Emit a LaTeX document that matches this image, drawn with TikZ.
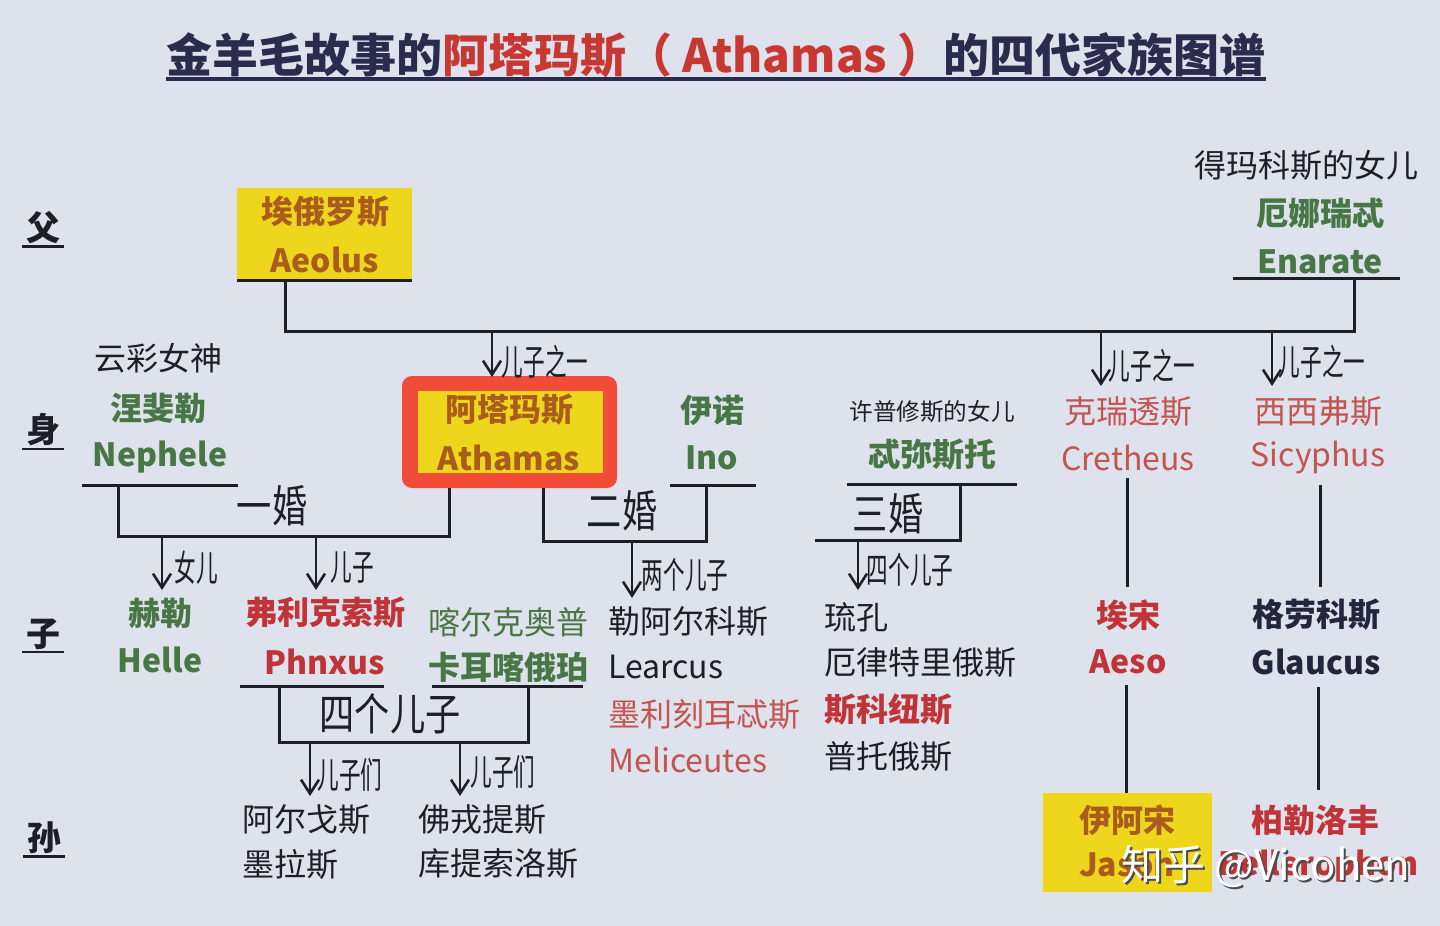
\documentclass[tikz,border=0pt]{standalone}
\usepackage{fontspec}
\setmainfont{Noto Sans CJK SC}
\usetikzlibrary{arrows.meta}
\definecolor{bg}{RGB}{221,226,236}
\definecolor{ink}{RGB}{30,30,42}
\definecolor{ttlblue}{RGB}{40,45,78}
\definecolor{ttlred}{RGB}{200,55,50}
\definecolor{ylw}{RGB}{238,214,28}
\definecolor{brn}{RGB}{170,92,28}
\definecolor{boxred}{RGB}{240,76,56}
\definecolor{grn}{RGB}{72,118,68}
\definecolor{rd}{RGB}{192,52,55}
\definecolor{lrd}{RGB}{196,84,80}
\definecolor{navy}{RGB}{32,38,60}
\tikzset{
  ln/.style={draw=ink, line width=1.5pt},
  arr/.style={draw=ink, line width=1.3pt, -{Straight Barb[length=7pt,width=9pt,line width=1.3pt]}},
  nmb/.style={font=\fontsize{16}{18}\selectfont\bfseries, inner sep=0pt},
  nmr/.style={font=\fontsize{16}{18}\selectfont, inner sep=0pt},
  hw/.style={font=\fontsize{18}{18}\selectfont, text=ink, inner sep=0pt},
  hwbig/.style={font=\fontsize{22}{22}\selectfont, text=ink, inner sep=0pt},
  row/.style={font=\fontsize{17}{17}\selectfont\bfseries, text=ink, inner sep=0pt},
}
\newcommand{\hwt}[1]{\scalebox{0.6}[1]{#1}}
\newcommand{\hwm}[1]{\scalebox{0.8}[1]{#1}}
\begin{document}
\begin{tikzpicture}[x=0.5pt,y=-0.5pt]
\fill[bg] (0,0) rectangle (1440,926);
\useasboundingbox (0,0) rectangle (1440,926);

% title
\node[inner sep=0pt, font=\fontsize{23}{26}\selectfont\bfseries] (title) at (716,55)
  {\textcolor{ttlblue}{金羊毛故事的}\textcolor{ttlred}{阿塔玛斯（ Athamas ）}\textcolor{ttlblue}{的四代家族图谱}};
\draw[ttlblue, line width=1.6pt] (title.west |- 0,79) -- (title.east |- 0,79);

% row labels
\node[row] (r1) at (43,228) {父};
\node[row] (r2) at (43,430) {身};
\node[row] (r3) at (43,634) {子};
\node[row] (r4) at (44,838) {孙};
\foreach \r in {r1,r2,r3,r4} \draw[ink, line width=1.2pt] ([xshift=-2pt,yshift=-1pt]\r.south west) -- ([xshift=2pt,yshift=-1pt]\r.south east);

% Aeolus
\fill[ylw] (237,188) rectangle (412,280);
\draw[ln] (237,280) -- (412,280);
\node[nmb, text=brn] (aeolusc) at (325,212) {埃俄罗斯};
\node[nmb, text=brn] (aeolus) at (325,260) {Aeolus};

% Enarate
\node[nmr, text=ink] (enarated) at (1306,165) {得玛科斯的女儿};
\node[nmb, text=grn] (enaratec) at (1320,213) {厄娜瑞忒};
\node[nmb, text=grn] (enarate) at (1320,262) {Enarate};
\draw[ln] (1233,278) -- (1400,278);

% generation line
\coordinate (a0) at (285,280);
\coordinate (a1) at (285,331);
\coordinate (e0) at (1354,278);
\coordinate (e1) at (1354,331);
\draw[ln] (a0) -- (a1) -- (e1) -- (e0);

% Athamas
\fill[boxred, rounded corners=5pt] (402,376) rectangle (617,488);
\fill[ylw] (418,391) rectangle (603,473);
\node[nmb, text=brn] (athc) at (509,410) {阿塔玛斯};
\node[nmb, text=brn] (ath) at (509,458) {Athamas};
\coordinate (s1) at (492,331);
\draw[arr] (s1) -- (492,377);
\node[hw] at (545,362) {\hwt{儿子之一}};

% Cretheus, Sicyphus
\coordinate (s2) at (1101,331);
\coordinate (s3) at (1272,331);
\draw[arr] (s2) -- (1101,386);
\draw[arr] (s3) -- (1272,386);
\node[hw] at (1152,366) {\hwt{儿子之一}};
\node[hw] at (1322,362) {\hwt{儿子之一}};
\node[nmr, text=lrd] (crec) at (1128,412) {克瑞透斯};
\node[nmr, text=lrd] (cre) at (1128,458) {Cretheus};
\node[nmr, text=lrd] (sisc) at (1318,412) {西西弗斯};
\node[nmr, text=lrd] (sis) at (1318,458) {Sicyphus};

% Nephele
\node[nmr, text=ink] (nepd) at (158,358) {云彩女神};
\node[nmb, text=grn] (nepc) at (158,408) {涅斐勒};
\node[nmb, text=grn] (nep) at (160,457) {Nephele};
\draw[ln] (82,485) -- (238,485);
\coordinate (m1a) at (118,485);
\coordinate (m1b) at (118,536);
\coordinate (m1c) at (449,536);
\coordinate (m1d) at (449,488);
\draw[ln] (m1a) -- (m1b) -- (m1c) -- (m1d);
\node[hwbig] at (272,506) {\hwm{一婚}};
\draw[arr] (162,536) -- (162,590);
\node[hw] at (196,568) {\hwt{女儿}};
\draw[arr] (316,536) -- (316,590);
\node[hw] at (352,568) {\hwt{儿子}};

% Helle, Phrixus
\node[nmb, text=grn] (hellec) at (160,613) {赫勒};
\node[nmb, text=grn] (helle) at (160,660) {Helle};
\node[nmb, text=rd] (phrc) at (325,613) {弗利克索斯};
\node[nmb, text=rd] (phr) at (325,662) {Phnxus};
\draw[ln] (240,686) -- (384,686);
\node[nmr, text=grn] (chald) at (508,622) {喀尔克奥普};
\node[nmb, text=grn] (chalc) at (508,667) {卡耳喀俄珀};
\draw[ln] (432,686) -- (583,686);
\coordinate (f1) at (279,686);
\coordinate (f2) at (279,742);
\coordinate (f3) at (528,742);
\coordinate (f4) at (528,686);
\draw[ln] (f1) -- (f2) -- (f3) -- (f4);
\node[hwbig] at (390,714) {\hwm{四个儿子}};
\draw[arr] (310,742) -- (310,796);
\node[hw] at (350,775) {\hwt{儿子们}};
\draw[arr] (460,742) -- (460,796);
\node[hw] at (503,772) {\hwt{儿子们}};
\node[nmr, text=ink, anchor=west] (g1) at (242,820) {阿尔戈斯};
\node[nmr, text=ink, anchor=west] (g2) at (242,864) {墨拉斯};
\node[nmr, text=ink, anchor=west] (g3) at (418,820) {佛戎提斯};
\node[nmr, text=ink, anchor=west] (g4) at (418,864) {库提索洛斯};

% Ino
\node[nmb, text=grn] (inoc) at (712,410) {伊诺};
\node[nmb, text=grn] (ino) at (712,458) {Ino};
\draw[ln] (670,485) -- (756,485);
\coordinate (m2a) at (543,488);
\coordinate (m2b) at (543,541);
\coordinate (m2c) at (706,541);
\coordinate (m2d) at (706,485);
\draw[ln] (m2a) -- (m2b) -- (m2c) -- (m2d);
\node[hwbig] at (622,511) {\hwm{二婚}};
\draw[arr] (632,541) -- (632,598);
\node[hw] at (685,575) {\hwt{两个儿子}};
\node[nmr, text=ink, anchor=west] (i1) at (608,622) {勒阿尔科斯};
\node[nmr, text=ink, anchor=west] (i2) at (608,667) {Learcus};
\node[nmr, text=lrd, anchor=west] (i3) at (608,714) {墨利刻耳忒斯};
\node[nmr, text=lrd, anchor=west] (i4) at (608,760) {Meliceutes};

% Themisto
\node[inner sep=0pt, font=\fontsize{11.8}{13}\selectfont, text=ink] (themd) at (932,412) {许普修斯的女儿};
\node[nmb, text=grn] (themc) at (932,455) {忒弥斯托};
\draw[ln] (847,484) -- (1017,484);
\coordinate (m3a) at (960,484);
\coordinate (m3b) at (960,540);
\coordinate (m3c) at (815,540);
\draw[ln] (m3a) -- (m3b) -- (m3c);
\node[hwbig] at (888,514) {\hwm{三婚}};
\draw[arr] (858,540) -- (858,590);
\node[hw] at (910,570) {\hwt{四个儿子}};
\node[nmr, text=ink, anchor=west] (t1) at (824,617) {琉孔};
\node[nmr, text=ink, anchor=west] (t2) at (824,663) {厄律特里俄斯};
\node[nmb, text=rd, anchor=west] (t3) at (824,710) {斯科纽斯};
\node[nmr, text=ink, anchor=west] (t4) at (824,757) {普托俄斯};

% Cretheus line
\node[nmb, text=rd] (aesoc) at (1128,615) {埃宋};
\node[nmb, text=rd] (aeso) at (1128,662) {Aeso};
\draw[ln] (1127,478) -- (1127,587);
\draw[ln] (1126,685) -- (1126,793);
\fill[ylw] (1043,793) rectangle (1212,892);
\node[nmb, text=brn] (jasc) at (1127,820) {伊阿宋};
\node[nmb, text=brn] (jas) at (1127,865) {Jason};

% Sicyphus line
\node[nmb, text=navy] (glc) at (1316,615) {格劳科斯};
\node[nmb, text=navy] (gl) at (1316,662) {Glaucus};
\draw[ln] (1320,485) -- (1320,587);
\draw[ln] (1318,687) -- (1318,790);
\node[nmb, text=rd] (belc) at (1315,820) {柏勒洛丰};
\node[nmb, text=rd] (bel) at (1318,866) {Bellerophon};

% watermark
\node[inner sep=0pt, font=\fontsize{21}{24}\selectfont, text=black!70] at (1268,868) {知乎 @Vicohen};
\node[inner sep=0pt, font=\fontsize{21}{24}\selectfont, text=white] (wm) at (1266,866) {知乎 @Vicohen};
\end{tikzpicture}
\end{document}
